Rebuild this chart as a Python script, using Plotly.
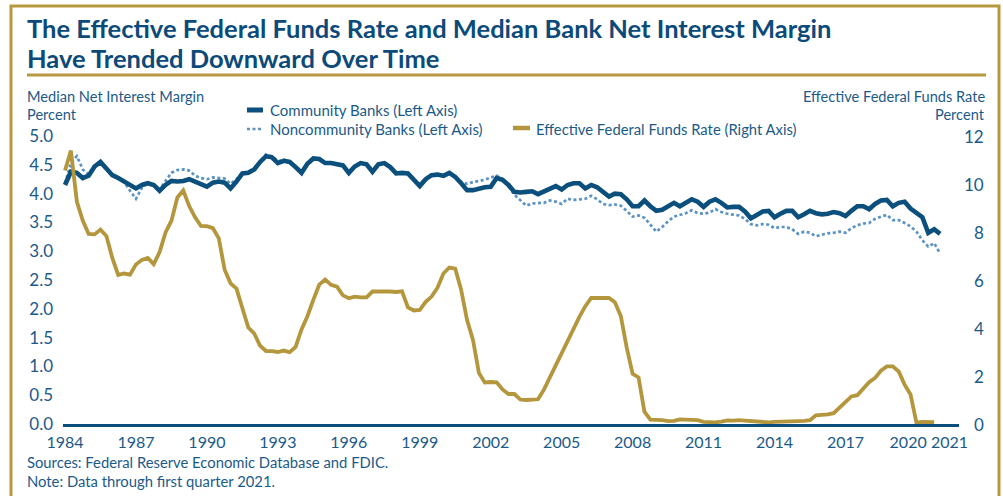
import plotly.graph_objects as go

W, H = 1003, 496
ML, MR, MT, MB = 63, 44, 136, 72
PW = W - ML - MR
PH = H - MT - MB


def px(x):
    return (x - ML) / PW


def py(y):
    return (H - MB - y) / PH


# ---------------- data ----------------
start_year = 1984
community = [
    4.15, 4.38, 4.36, 4.27, 4.31, 4.47, 4.55, 4.44, 4.32, 4.27,
    4.21, 4.15, 4.09, 4.15, 4.18, 4.15, 4.05, 4.15, 4.22, 4.21,
    4.22, 4.25, 4.21, 4.18, 4.12, 4.19, 4.21, 4.19, 4.09, 4.21,
    4.35, 4.36, 4.42, 4.55, 4.65, 4.63, 4.53, 4.57, 4.55, 4.46,
    4.36, 4.52, 4.61, 4.60, 4.53,
    4.53, 4.51, 4.49, 4.36, 4.47, 4.53, 4.51, 4.38, 4.51, 4.53,
    4.46, 4.35, 4.36, 4.35, 4.25, 4.13, 4.25, 4.32, 4.33, 4.31,
    4.36, 4.29, 4.18, 4.06, 4.06, 4.09, 4.11, 4.12, 4.27, 4.24,
    4.15, 4.03, 4.02, 4.03, 4.04, 3.99, 4.04, 4.09, 4.13, 4.07,
    4.15, 4.18, 4.18, 4.09, 4.15, 4.11, 4.03, 3.95, 4.00, 3.99,
    3.90, 3.78, 3.78, 3.88, 3.78, 3.70,
    3.72, 3.78, 3.84, 3.78, 3.84, 3.90, 3.86, 3.77, 3.86, 3.90,
    3.84, 3.76, 3.77, 3.77, 3.69, 3.57, 3.63, 3.69, 3.70, 3.59,
    3.65, 3.70, 3.70, 3.59, 3.64, 3.70, 3.66, 3.64, 3.65, 3.68,
    3.66, 3.61, 3.70, 3.78, 3.78, 3.73, 3.82, 3.88, 3.89, 3.78,
    3.84, 3.86, 3.74, 3.67, 3.59, 3.32, 3.38, 3.30,
]
noncommunity = [
    4.18, 4.53, 4.65, 4.42, 4.33, 4.46, 4.55, 4.44, 4.33, 4.28,
    4.20, 4.05, 3.91, 4.10, 4.18, 4.16, 4.07, 4.22, 4.36, 4.41,
    4.42, 4.40, 4.31, 4.27, 4.25, 4.28, 4.27, 4.26, 4.17, 4.25,
    4.36, 4.38, 4.44, 4.57, 4.68, 4.65, 4.56, 4.59, 4.56, 4.48,
    4.38, 4.53, 4.62, 4.61, 4.54,
    4.53, 4.51, 4.49, 4.37, 4.47, 4.54, 4.52, 4.39, 4.52, 4.54,
    4.46, 4.36, 4.37, 4.36, 4.26, 4.15, 4.26, 4.33, 4.34, 4.31,
    4.37, 4.30, 4.20, 4.17, 4.20, 4.22, 4.24, 4.28, 4.31, 4.25,
    4.13, 3.98, 3.89, 3.79, 3.83, 3.83, 3.84, 3.88, 3.86, 3.82,
    3.91, 3.89, 3.90, 3.91, 3.96, 3.90, 3.82, 3.80, 3.81, 3.79,
    3.70, 3.60, 3.62, 3.58, 3.46, 3.34,
    3.42, 3.52, 3.60, 3.63, 3.66, 3.71, 3.66, 3.65, 3.67, 3.73,
    3.68, 3.65, 3.63, 3.62, 3.56, 3.47, 3.45, 3.47, 3.46, 3.40,
    3.42, 3.42, 3.38, 3.30, 3.34, 3.32, 3.26, 3.29, 3.31, 3.32,
    3.34, 3.32, 3.40, 3.45, 3.48, 3.49, 3.56, 3.60, 3.63, 3.54,
    3.54, 3.49, 3.43, 3.34, 3.19, 3.08, 3.14, 2.96,
]
fed_funds = [
    10.56, 11.39, 9.27,
    8.48, 7.92, 7.90, 8.10,
    7.83, 6.92, 6.21, 6.27,
    6.22, 6.65, 6.84, 6.92,
    6.66, 7.16, 7.98, 8.47,
    9.44, 9.73, 9.08, 8.61,
    8.25, 8.24, 8.16, 7.74,
    6.43, 5.86, 5.64, 4.82,
    4.02, 3.77, 3.26, 3.04,
    3.04, 3.00, 3.06, 2.99,
    3.21, 3.94, 4.49, 5.17,
    5.81, 6.02, 5.80, 5.72,
    5.36, 5.24, 5.31, 5.28,
    5.28, 5.52, 5.53, 5.51,
    5.52, 5.50, 5.53, 4.86,
    4.73, 4.75, 5.09, 5.31,
    5.68, 6.27, 6.52, 6.47,
    5.59, 4.33, 3.50, 2.13,
    1.73, 1.75, 1.74, 1.44,
    1.25, 1.25, 1.02, 1.00,
    1.00, 1.03, 1.43, 1.95,
    2.47, 2.94, 3.46, 3.98,
    4.46, 4.91, 5.25, 5.25,
    5.26, 5.25, 5.07, 4.50,
    3.18, 2.09, 1.94, 0.51,
    0.18, 0.18, 0.16, 0.12,
    0.13, 0.19, 0.19, 0.19,
    0.16, 0.09, 0.08, 0.07,
    0.10, 0.15, 0.14, 0.16,
    0.14, 0.12, 0.08, 0.09,
    0.07, 0.09, 0.09, 0.10,
    0.11, 0.12, 0.13, 0.16,
    0.36, 0.37, 0.40, 0.45,
    0.70, 0.95, 1.15, 1.20,
    1.45, 1.74, 1.92, 2.22,
    2.40, 2.40, 2.19, 1.64,
    1.23, 0.06, 0.09, 0.09,
    0.08,
]
x_tick_labels = ["1984", "1987", "1990", "1993", "1996", "1999", "2002",
                 "2005", "2008", "2011", "2014", "2017", "2020", "2021"]
left_ticks = [0.0, 0.5, 1.0, 1.5, 2.0, 2.5, 3.0, 3.5, 4.0, 4.5, 5.0]
right_ticks = [0, 2, 4, 6, 8, 10, 12]

x_comm = [start_year + 0.25 * i for i in range(len(community))]
x_non = [start_year + 0.25 * i for i in range(len(noncommunity))]
x_ff = [start_year + 0.25 * i for i in range(len(fed_funds))]

# ---------------- style ----------------
FONT = "Lato"
TXT = "#1b5a88"
TITLE = "#0c4a79"
C_COMM = "#0b4f7c"
C_NON = "#5b93c2"
C_GOLD = "#b4963c"
C_FRAME = "#b8983e"

fig = go.Figure()
fig.add_trace(go.Scatter(x=x_non, y=noncommunity, mode="lines", name="Noncommunity Banks (Left Axis)",
                         line=dict(color=C_NON, width=2.7, dash="3px,2.5px"), yaxis="y"))
fig.add_trace(go.Scatter(x=x_comm, y=community, mode="lines", name="Community Banks (Left Axis)",
                         line=dict(color=C_COMM, width=4.6), yaxis="y"))
fig.add_trace(go.Scatter(x=x_ff, y=fed_funds, mode="lines", name="Effective Federal Funds Rate (Right Axis)",
                         line=dict(color=C_GOLD, width=3.8), yaxis="y2"))

# the two last labels are pushed apart in the original so they do not overlap
tick_pos = [int(t) for t in x_tick_labels]
tick_pos[-2] -= 0.35
tick_pos[-1] += 0.4

fig.update_layout(
    width=W, height=H,
    margin=dict(l=ML, r=MR, t=MT, b=MB, pad=0),
    paper_bgcolor="white", plot_bgcolor="white",
    showlegend=False,
    font=dict(family=FONT, color=TXT, size=15),
    xaxis=dict(range=[1983.915, 2021.80], tickvals=tick_pos, ticktext=x_tick_labels,
               tickangle=0, showgrid=False, zeroline=False, showline=True, linecolor=C_COMM,
               linewidth=2.5, ticks="", tickfont=dict(size=16, color=TXT, family=FONT),
               ticklabelstandoff=2),
    yaxis=dict(range=[0, 5], tickvals=left_ticks, tickformat=".1f", showgrid=False,
               zeroline=False, showline=False, ticks="",
               tickfont=dict(size=17, color=TXT, family=FONT), ticklabelstandoff=9),
    yaxis2=dict(range=[0, 12], overlaying="y", side="right", showgrid=False, zeroline=False,
                showline=False, ticks="", showticklabels=False, tickvals=right_ticks),
)

ann = []
# right axis tick labels (right aligned)
for v in right_ticks:
    ann.append(dict(x=px(986), y=v, xref="paper", yref="y2", text=str(v), showarrow=False,
                    xanchor="right", yanchor="middle", font=dict(size=17, color=TXT, family=FONT)))


def text(x, y, s, size, anchor="left", color=TXT, bold=False):
    ann.append(dict(x=px(x), y=py(y), xref="paper", yref="paper",
                    text=f"<b>{s}</b>" if bold else s, showarrow=False,
                    xanchor=anchor, yanchor="middle",
                    font=dict(size=size, color=color, family=FONT)))


text(25, 28, "The Effective Federal Funds Rate and Median Bank Net Interest Margin", 25.5, color=TITLE, bold=True)
text(25, 58, "Have Trended Downward Over Time", 25.5, color=TITLE, bold=True)
text(25, 96, "Median Net Interest Margin", 14.6)
text(25, 114, "Percent", 14.6)
text(987, 96, "Effective Federal Funds Rate", 14.6, anchor="right")
text(987, 114, "Percent", 14.6, anchor="right")
text(268, 110, "Community Banks (Left Axis)", 15)
text(268, 129, "Noncommunity Banks (Left Axis)", 15)
text(534, 129, "Effective Federal Funds Rate (Right Axis)", 14.8)
text(25, 462, "Sources: Federal Reserve Economic Database and FDIC.", 14.8)
text(25, 481, "Note: Data through first quarter 2021.", 14.8)

shapes = [
    # outer frame
    dict(type="rect", xref="paper", yref="paper", x0=px(11), x1=px(999), y0=py(510), y1=py(6),
         line=dict(color=C_FRAME, width=3), fillcolor="rgba(0,0,0,0)", layer="below"),
    # title underline
    dict(type="line", xref="paper", yref="paper", x0=px(27), x1=px(986), y0=py(75), y1=py(75),
         line=dict(color=C_FRAME, width=3)),
    # legend samples
    dict(type="line", xref="paper", yref="paper", x0=px(247), x1=px(263), y0=py(110), y1=py(110),
         line=dict(color=C_COMM, width=5)),
    dict(type="line", xref="paper", yref="paper", x0=px(247), x1=px(263), y0=py(129), y1=py(129),
         line=dict(color=C_NON, width=2.7, dash="3px,2.5px")),
    dict(type="line", xref="paper", yref="paper", x0=px(513), x1=px(530), y0=py(128), y1=py(128),
         line=dict(color=C_GOLD, width=4.5)),
]
fig.update_layout(annotations=ann, shapes=shapes)

fig.write_html("out.html")
